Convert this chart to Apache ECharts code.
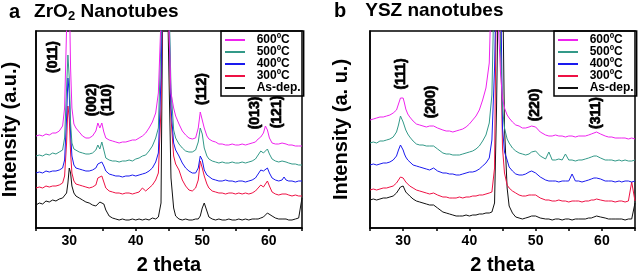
<!DOCTYPE html>
<html>
<head>
<meta charset="utf-8">
<script src="https://cdn.jsdelivr.net/npm/echarts@6/dist/echarts.min.js"></script>
<style>html,body{margin:0;padding:0;background:#fff}#main{width:638px;height:277px}</style>
</head>
<body>
<div id="main"></div>
<script>
var myChart = echarts.init(document.getElementById('main'));
var FONT = 'Liberation Sans';

// 2 theta positions shared by all patterns
var twoTheta = [25, 25.5, 26, 26.5, 27, 27.5, 28, 28.5, 29, 29.3,
    29.6, 29.8, 30, 30.2, 30.4, 30.7, 31, 31.5, 32, 32.5,
    33, 33.5, 34, 34.3, 34.6, 34.9, 35.2, 35.5, 36, 36.5,
    37, 37.5, 38, 38.5, 39, 39.5, 40, 40.5, 41, 41.5,
    42, 42.5, 43, 43.4, 43.8, 44.1, 44.4, 44.7, 45, 45.3,
    45.7, 46, 46.5, 47, 47.5, 48, 48.5, 49, 49.4, 49.7,
    50, 50.3, 50.7, 51, 51.5, 52, 52.5, 53, 53.5, 54,
    54.5, 55, 55.5, 56, 56.5, 57, 57.5, 58, 58.4, 58.8,
    59.2, 59.5, 59.8, 60.1, 60.5, 61, 61.5, 62, 62.3, 62.6,
    63, 63.5, 64, 64.5, 65];

var temps = ['As-dep.', '300ºC', '400ºC', '500ºC', '600ºC'];
var legendOrder = ['600ºC', '500ºC', '400ºC', '300ºC', 'As-dep.'];
var colors = ['#111111', '#ee1144', '#1a1aee', '#339988', '#ee22ee'];

// a: ZrO2 nanotubes (stacked, arbitrary units)
var zro2AsDep = [23, 25, 24, 27, 26, 28, 27, 29, 30, 31,
    35, 45, 60, 55, 42, 35, 32, 30, 28, 26,
    25, 23, 22, 23, 26, 27, 24, 18, 12, 10,
    9, 8, 9, 8, 8, 9, 8, 9, 8, 9,
    8, 10, 9, 11, 25, 260, 260, 260, 150, 50,
    20, 12, 9, 8, 9, 8, 8, 9, 9, 12,
    20, 25, 17, 11, 9, 8, 9, 8, 8, 9,
    8, 8, 9, 8, 9, 8, 9, 9, 9, 10,
    11, 13, 15, 15, 12, 10, 9, 9, 10, 9,
    8, 8, 9, 10, 30];
var zro2_300 = [40, 41, 40, 42, 41, 42, 42, 43, 45, 52,
    85, 122, 110, 75, 55, 47, 44, 43, 42, 41,
    40, 41, 43, 50, 48, 52, 46, 40, 37, 36,
    35, 35, 34, 35, 35, 34, 35, 36, 40, 37,
    40, 43, 48, 55, 120, 260, 260, 260, 200, 110,
    72, 64, 58, 48, 42, 38, 37, 40, 48, 67,
    60, 52, 44, 40, 37, 36, 35, 35, 34, 35,
    35, 34, 35, 34, 35, 34, 35, 37, 40, 43,
    41, 44, 47, 42, 36, 34, 33, 34, 36, 34,
    33, 32, 33, 32, 32];
var zro2_400 = [55, 56, 55, 57, 56, 57, 57, 58, 60, 68,
    110, 150, 135, 95, 72, 63, 60, 59, 58, 57,
    57, 58, 60, 64, 65, 66, 62, 57, 54, 53,
    52, 52, 51, 52, 52, 53, 52, 53, 54, 55,
    57, 60, 66, 75, 150, 260, 260, 260, 220, 120,
    85, 78, 72, 65, 60, 57, 55, 55, 60, 72,
    68, 58, 53, 51, 49, 48, 47, 47, 48, 47,
    47, 46, 47, 47, 46, 47, 48, 50, 54, 58,
    57, 59, 60, 55, 50, 48, 47, 48, 51, 48,
    47, 47, 46, 47, 47];
var zro2_500 = [72, 73, 72, 74, 73, 75, 74, 76, 78, 90,
    140, 173, 150, 105, 85, 79, 77, 76, 75, 74,
    74, 75, 78, 83, 79, 86, 78, 70, 68, 67,
    67, 66, 67, 67, 68, 67, 69, 70, 72, 73,
    77, 82, 90, 100, 190, 260, 260, 260, 230, 140,
    98, 90, 84, 80, 77, 76, 76, 78, 86, 100,
    94, 80, 72, 69, 67, 66, 65, 66, 65, 65,
    66, 65, 65, 66, 65, 66, 67, 69, 73, 77,
    75, 77, 79, 74, 69, 67, 66, 67, 68, 66,
    65, 64, 64, 63, 63];
var zro2_600 = [92, 93, 92, 94, 93, 95, 95, 97, 102, 120,
    200, 260, 240, 160, 120, 104, 100, 96, 92, 90,
    90, 92, 97, 105, 100, 105, 96, 90, 88, 87,
    86, 85, 86, 86, 87, 88, 88, 90, 92, 95,
    100, 106, 115, 135, 210, 260, 260, 260, 200, 135,
    120, 112, 104, 97, 93, 90, 89, 90, 100, 116,
    117, 100, 92, 89, 87, 86, 84, 84, 83, 83,
    84, 83, 83, 84, 83, 84, 85, 86, 89, 91,
    95, 102, 98, 90, 85, 84, 84, 85, 86, 84,
    83, 83, 82, 82, 82];

// b: YSZ nanotubes
var yszAsDep = [28, 29, 28, 29, 30, 30, 31, 32, 35, 38,
    41, 42, 42, 39, 36, 34, 32, 29, 27, 26,
    25, 24, 23, 22, 23, 21, 20, 18, 16, 15,
    14, 13, 12, 12, 12, 13, 12, 13, 13, 14,
    14, 15, 15, 16, 25, 120, 260, 260, 260, 100,
    40, 22, 15, 11, 10, 9, 10, 11, 12, 13,
    12, 11, 10, 9, 9, 9, 8, 9, 9, 8,
    9, 9, 8, 9, 9, 9, 9, 10, 10, 11,
    12, 12, 11, 11, 10, 9, 9, 9, 8, 9,
    9, 8, 9, 9, 25];
var ysz_300 = [38, 39, 38, 39, 40, 40, 41, 42, 45, 48,
    51, 52, 50, 48, 46, 44, 42, 40, 38, 37,
    36, 35, 34, 34, 35, 33, 33, 32, 31, 31,
    30, 30, 30, 31, 30, 31, 31, 32, 32, 33,
    33, 34, 35, 36, 60, 260, 260, 200, 80, 55,
    43, 40, 37, 35, 33, 32, 32, 33, 33, 34,
    33, 32, 30, 29, 28, 28, 27, 27, 28, 27,
    27, 26, 27, 27, 27, 26, 27, 27, 28, 28,
    29, 28, 28, 28, 27, 27, 27, 26, 27, 27,
    27, 26, 27, 46, 27];
var ysz_400 = [63, 64, 63, 64, 65, 65, 66, 68, 72, 78,
    83, 82, 78, 74, 71, 68, 66, 63, 62, 61,
    60, 59, 58, 59, 60, 59, 57, 56, 55, 55,
    54, 54, 53, 53, 54, 55, 56, 56, 57, 59,
    62, 65, 70, 88, 160, 260, 260, 260, 100, 76,
    68, 61, 57, 54, 53, 53, 54, 56, 57, 56,
    55, 53, 51, 49, 48, 47, 47, 47, 46, 47,
    47, 47, 54, 47, 47, 46, 47, 48, 49, 50,
    50, 49, 49, 48, 47, 47, 47, 46, 47, 47,
    46, 47, 47, 46, 47];
var ysz_500 = [85, 86, 85, 87, 87, 88, 89, 91, 96, 103,
    112, 110, 106, 102, 98, 94, 91, 87, 84, 83,
    83, 82, 82, 83, 82, 81, 79, 77, 75, 74,
    74, 73, 73, 73, 74, 75, 76, 77, 79, 82,
    87, 93, 105, 133, 260, 260, 260, 180, 120, 100,
    89, 85, 80, 77, 75, 74, 73, 74, 76, 78,
    77, 75, 72, 70, 69, 76, 68, 68, 69, 68,
    74, 68, 68, 67, 68, 68, 69, 70, 71, 72,
    72, 71, 70, 69, 68, 68, 68, 67, 68, 68,
    67, 68, 67, 67, 68];
var ysz_600 = [108, 109, 110, 111, 111, 112, 113, 115, 118, 124,
    130, 132, 130, 125, 119, 114, 111, 107, 104, 103,
    102, 101, 102, 103, 102, 101, 100, 99, 98, 97,
    97, 96, 97, 98, 99, 101, 104, 108, 112, 118,
    128, 140, 165, 260, 260, 260, 200, 155, 130, 120,
    113, 110, 106, 103, 102, 100, 100, 101, 102, 102,
    101, 99, 96, 94, 93, 92, 92, 93, 92, 92,
    91, 92, 92, 91, 92, 92, 92, 93, 94, 95,
    96, 95, 94, 93, 92, 91, 91, 90, 91, 90,
    90, 90, 89, 90, 89];

// peak labels: text, 2theta, height
var hklA = ['(011)', '(002)', '(110)', '(112)', '(013)', '(121)'];
var hklAX = [27.6, 33.5, 35.7, 50.0, 57.9, 61.2];
var hklAY = [171, 128, 128, 139, 115, 116];
var hklB = ['(111)', '(200)', '(220)', '(311)'];
var hklBX = [29.7, 34.2, 49.9, 59.2];
var hklBY = [154, 126, 123, 115];

var panelA = [zro2AsDep, zro2_300, zro2_400, zro2_500, zro2_600];
var panelB = [yszAsDep, ysz_300, ysz_400, ysz_500, ysz_600];

function pairs(arr) {
    return twoTheta.map(function (x, i) { return [x, arr[i]]; });
}

function xAxisFor(idx) {
    return {
        gridIndex: idx, type: 'value', min: 25, max: 65, interval: 5,
        name: '2 theta', nameLocation: 'middle', nameGap: 27,
        nameTextStyle: { fontFamily: FONT, fontWeight: 'bold', fontSize: 20, color: '#000' },
        axisLine: { lineStyle: { color: '#000', width: 1.5 } },
        axisTick: { inside: false, length: 3, lineStyle: { color: '#000', width: 1.5 } },
        axisLabel: {
            margin: 6, fontFamily: FONT, fontWeight: 'bold', fontSize: 14, color: '#000',
            formatter: function (v) { return v % 10 === 0 ? v : ''; }
        },
        splitLine: { show: false }
    };
}

function yAxisFor(idx, name, gap) {
    return {
        gridIndex: idx, type: 'value', min: 0, max: 197,
        name: name, nameLocation: 'middle', nameGap: gap, nameRotate: 90,
        nameTextStyle: { fontFamily: FONT, fontWeight: 'bold', fontSize: 20, color: '#000' },
        axisLine: { show: true, lineStyle: { color: '#000', width: 1.5 } },
        axisTick: { show: false }, axisLabel: { show: false }, splitLine: { show: false }
    };
}

function legendFor(left) {
    return {
        left: left, top: 31, orient: 'vertical', data: legendOrder, selectedMode: false,
        icon: 'rect', itemWidth: 20, itemHeight: 2, itemGap: 0,
        padding: [3, 3, 2, 4], borderColor: '#000', borderWidth: 1.5,
        formatter: function (n) { return '  ' + n; },
        textStyle: { fontFamily: FONT, fontWeight: 'bold', fontSize: 12, lineHeight: 11, color: '#000' }
    };
}

function titleFor(left, letter, parts, gap) {
    return {
        left: left, top: 1, padding: 0, text: '{l|' + letter + '}' + parts,
        textStyle: {
            rich: {
                l: { fontFamily: FONT, fontWeight: 'bold', fontSize: 20, color: '#000', padding: [0, gap, 0, 0] },
                t: { fontFamily: FONT, fontWeight: 'bold', fontSize: 19, color: '#000' },
                s: { fontFamily: FONT, fontWeight: 'bold', fontSize: 13, color: '#000', padding: [9, 0, 0, 0] }
            }
        }
    };
}

var series = [];
[panelA, panelB].forEach(function (panel, g) {
    panel.forEach(function (arr, k) {
        series.push({
            name: temps[k], type: 'line', xAxisIndex: g, yAxisIndex: g,
            data: pairs(arr), showSymbol: false, symbol: 'none', clip: true,
            itemStyle: { color: colors[k] },
            lineStyle: { color: colors[k], width: 1 },
            animation: false
        });
    });
});
[[hklA, hklAX, hklAY], [hklB, hklBX, hklBY]].forEach(function (h, g) {
    series.push({
        type: 'scatter', xAxisIndex: g, yAxisIndex: g, symbolSize: 0, silent: true,
        itemStyle: { opacity: 1, color: '#000' },
        data: h[0].map(function (t, i) { return { name: t, value: [h[1][i], h[2][i]] }; }),
        label: {
            show: true, formatter: '{b}', position: 'inside', rotate: 90,
            align: 'center', verticalAlign: 'middle',
            fontFamily: FONT, fontWeight: 'bold', fontSize: 14, color: '#000',
            textBorderColor: '#000', textBorderWidth: 0.7
        },
        animation: false
    });
});

var option = {
    backgroundColor: '#fff',
    animation: false,
    title: [
        titleFor(9, 'a', '{t|ZrO}{s|2}{t| Nanotubes}', 14),
        titleFor(334, 'b', '{t|YSZ nanotubes}', 19)
    ],
    legend: [legendFor(221), legendFor(554)],
    grid: [
        { left: 36, top: 31, width: 266, height: 197, show: true, borderColor: '#000', borderWidth: 1.5, outerBoundsMode: 'none' },
        { left: 370, top: 31, width: 265, height: 197, show: true, borderColor: '#000', borderWidth: 1.5, outerBoundsMode: 'none' }
    ],
    xAxis: [xAxisFor(0), xAxisFor(1)],
    yAxis: [yAxisFor(0, 'Intensity (a.u.)', 16), yAxisFor(1, 'Intensity (a. u.)', 19)],
    series: series
};

myChart.setOption(option);
</script>
</body>
</html>
